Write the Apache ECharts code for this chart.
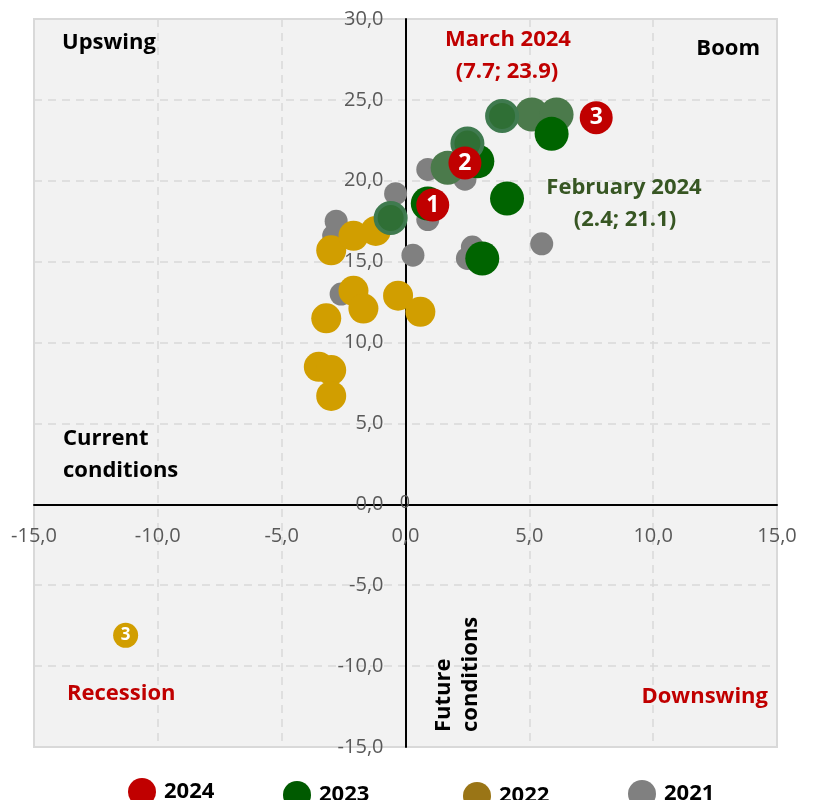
<!DOCTYPE html>
<html>
<head>
<meta charset="utf-8">
<title>Business cycle clock</title>
<script src="https://cdn.jsdelivr.net/npm/echarts@6/dist/echarts.min.js"></script>
<style>
  html, body { margin: 0; padding: 0; background: #fff; }
  #main { width: 814px; height: 800px; }
</style>
</head>
<body>
<div id="main"></div>
<script type="text/javascript">
// x = future conditions, y = current conditions
var data2021 = [[-0.4, 19.2], [-2.8, 17.5], [-2.9, 16.6], [-2.6, 13.0], [0.3, 15.4],
                [0.9, 17.6], [0.9, 20.7], [2.7, 15.9], [2.5, 15.2], [5.5, 16.1],
                [4.2, 18.7], [2.4, 20.1]];
var data2022 = [[-3.0, 15.7], [-2.1, 16.6], [-1.2, 16.9], [-2.1, 13.2], [-1.7, 12.1],
                [-3.2, 11.5], [-0.3, 12.9], [0.6, 11.9], [-3.5, 8.5], [-3.0, 8.3],
                [-3.0, 6.7]];
var data2023 = [[4.1, 18.9], [3.1, 15.2], [2.9, 21.2], [0.9, 18.6], [5.9, 22.9]];
var data2023ring = [[2.5, 22.3], [3.9, 24.0], [-0.6, 17.7]];
var data2023muted = [[1.7, 20.8], [5.1, 24.1], [6.1, 24.1]];
var data2024 = [[1.1, 18.5], [2.4, 21.1], [7.7, 23.9]];
var labels2024 = ['1', '2', '3'];
var recessionMark = [[-11.3, -8.1]];
var recessionLabel = '3';
var legendNames = ['2024', '2023', '2022', '2021'];

var fontFam = '"Open Sans", "Noto Sans", sans-serif';
var myChart = echarts.init(document.getElementById('main'));

// plot box (px) - used to put the axes through the origin
var gLeft = 34, gRight = 37, gTop = 19, gBottom = 53;
var plotW = 814 - gLeft - gRight;
var plotH = 800 - gTop - gBottom;

function fmt(v) {
    return v.toFixed(1).replace('.', ',');
}

function legendAt(name, color, left, top) {
    return {
        left: left,
        top: top,
        itemWidth: 28,
        itemHeight: 28,
        icon: 'circle',
        selectedMode: false,
        data: [{ name: name, itemStyle: { color: color } }],
        textStyle: { fontFamily: fontFam, fontWeight: 'bold', fontSize: 22, color: '#000', padding: [0, 0, 0, 3] }
    };
}

function txt(s, x, y, color, align) {
    return {
        type: 'text',
        z: 100,
        style: {
            text: s, x: x, y: y,
            fill: color,
            font: 'bold 22px ' + fontFam,
            textAlign: align || 'left',
            textVerticalAlign: 'middle'
        }
    };
}

var option = {
    animation: false,
    grid: {
        left: gLeft, right: gRight, top: gTop, bottom: gBottom,
        outerBoundsMode: 'none',
        containLabel: false,
        show: true,
        backgroundColor: '#f2f2f2',
        borderColor: '#d9d9d9',
        borderWidth: 2
    },
    legend: [
        legendAt(legendNames[0], '#c00000', 123, 773),
        legendAt(legendNames[1], '#005a00', 278, 776),
        legendAt(legendNames[2], '#9a7516', 458, 777),
        legendAt(legendNames[3], '#808080', 623, 775)
    ],
    xAxis: {
        type: 'value',
        min: -15, max: 15, interval: 5,
        // sits on y = 0 : 15 of 45 units above the bottom edge
        offset: -plotH * 15 / 45,
        axisLine: { onZero: false, lineStyle: { color: '#000', width: 2 } },
        axisTick: { show: false },
        axisLabel: {
            margin: 22,
            color: '#595959',
            fontSize: 20,
            fontFamily: fontFam,
            formatter: fmt
        },
        splitLine: { show: true, lineStyle: { color: '#d9d9d9', type: [8, 6], width: 1.5 } }
    },
    yAxis: {
        type: 'value',
        min: -15, max: 30, interval: 5,
        // sits on x = 0 : middle of the plot
        offset: -plotW / 2,
        axisLine: { onZero: false, lineStyle: { color: '#000', width: 2 } },
        axisTick: { show: false },
        axisLabel: {
            margin: 22,
            color: '#595959',
            fontSize: 20,
            fontFamily: fontFam,
            formatter: fmt
        },
        splitLine: { show: true, lineStyle: { color: '#d9d9d9', type: [8, 6], width: 1.5 } }
    },
    series: [
        {
            name: '2021', type: 'scatter', data: data2021,
            symbolSize: 23,
            itemStyle: { color: '#808080', opacity: 1 }
        },
        {
            name: '2022', type: 'scatter', data: data2022,
            symbolSize: 30,
            itemStyle: { color: '#d19e00', opacity: 1 }
        },
        {
            name: '2022-mark', type: 'scatter', data: recessionMark,
            symbolSize: 25,
            itemStyle: { color: '#d19e00', opacity: 1 },
            label: {
                show: true, position: 'inside', formatter: recessionLabel,
                color: '#fff', fontWeight: 'bold', fontSize: 17, fontFamily: fontFam
            }
        },
        {
            name: '2023', type: 'scatter', data: data2023muted,
            symbolSize: 34,
            itemStyle: { color: '#4b7a4b', opacity: 1 }
        },
        {
            name: '2023', type: 'scatter', data: data2023,
            symbolSize: 34,
            itemStyle: { color: '#006400', opacity: 1 }
        },
        {
            name: '2023', type: 'scatter', data: data2023ring,
            symbolSize: 30,
            itemStyle: { color: '#2f6f35', borderColor: '#3f7a4f', borderWidth: 4, opacity: 1 }
        },
        {
            name: '2024', type: 'scatter', data: data2024,
            symbolSize: 33,
            itemStyle: { color: '#c00000', opacity: 1 },
            label: {
                show: true, position: 'inside',
                formatter: function (p) { return labels2024[p.dataIndex]; },
                color: '#fff', fontWeight: 'bold', fontSize: 23, fontFamily: fontFam
            }
        }
    ],
    graphic: [
        txt('Upswing', 62, 43, '#000'),
        txt('Boom', 760, 49, '#000', 'right'),
        txt('March 2024', 508, 40, '#c00000', 'center'),
        txt('(7.7; 23.9)', 507, 72, '#c00000', 'center'),
        txt('February 2024', 624, 188, '#375623', 'center'),
        txt('(2.4; 21.1)', 625, 220, '#375623', 'center'),
        txt('Current', 63, 439, '#000'),
        txt('conditions', 63, 471, '#000'),
        txt('Recession', 67, 694, '#c00000'),
        txt('Downswing', 768, 697, '#c00000', 'right'),
        {
            type: 'text', z: 100,
            x: 430, y: 732, rotation: Math.PI / 2,
            style: {
                text: 'Future\nconditions',
                fill: '#000',
                font: 'bold 22px ' + fontFam,
                lineHeight: 27,
                textAlign: 'left',
                textVerticalAlign: 'top'
            }
        },
        {
            type: 'text', z: 100,
            style: {
                text: '0', x: 405, y: 503,
                fill: '#595959',
                font: '18px ' + fontFam,
                textAlign: 'center',
                textVerticalAlign: 'middle'
            }
        }
    ]
};
myChart.setOption(option);
</script>
</body>
</html>
